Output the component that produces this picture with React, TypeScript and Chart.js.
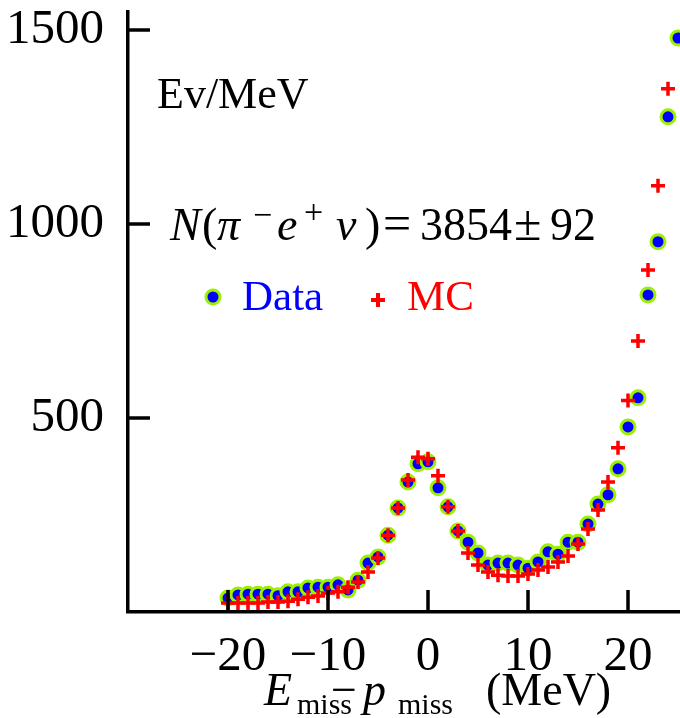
import React, { useEffect, useRef } from 'react';
import { Chart, registerables } from 'chart.js';

Chart.register(...registerables);

// Bin centres (MeV)
const dataBins = [
  -20, -19, -18, -17, -16, -15, -14, -13, -12, -11, -10, -9, -8, -7, -6, -5, -4, -3, -2, -1,
  0, 1, 2, 3, 4, 5, 6, 7, 8, 9, 10, 11, 12, 13, 14, 15, 16, 17, 18, 19, 20, 21, 22, 23, 24, 25,
];
const dataCounts = [
  36, 44, 46, 46, 46, 42, 52, 52, 62, 64, 64, 70, 57, 82, 126, 142, 198, 268, 335, 382,
  387, 320, 271, 209, 180, 152, 121, 126, 126, 121, 113, 129, 155, 149, 180, 180, 227, 278, 302, 369,
  477, 552, 817, 954, 1276, 1479,
];
const mcBins = [
  -20, -19, -18, -17, -16, -15, -14, -13, -12, -11, -10, -9, -8, -7, -6, -5, -4, -3, -2, -1,
  0, 1, 2, 3, 4, 5, 6, 7, 8, 9, 10, 11, 12, 13, 14, 15, 16, 17, 18, 19, 20, 21, 22, 23, 24,
];
const mcCounts = [
  23, 23, 23, 23, 26, 26, 28, 33, 38, 41, 49, 52, 64, 77, 103, 139, 198, 268, 340, 399,
  395, 351, 271, 209, 152, 121, 103, 95, 93, 93, 98, 108, 116, 129, 144, 175, 214, 263, 335, 423,
  545, 698, 881, 1098, 1348,
];
const xTickValues = [-20, -10, 0, 10, 20];
const yTickValues = [500, 1000, 1500];

const SERIF = "'Liberation Serif', 'DejaVu Serif', serif";
const GREEN = '#9cf000';

const inwardTicks = {
  id: 'inwardTicks',
  afterDatasetsDraw(chart: any) {
    const { ctx, chartArea, scales } = chart;
    const x = scales.x;
    const y = scales.y;
    ctx.save();
    ctx.strokeStyle = '#000';
    ctx.lineWidth = 3.5;
    ctx.lineCap = 'butt';
    for (const v of xTickValues) {
      const px = Math.round(x.getPixelForValue(v));
      ctx.beginPath();
      ctx.moveTo(px, chartArea.bottom);
      ctx.lineTo(px, chartArea.bottom - 22);
      ctx.stroke();
    }
    for (const v of yTickValues) {
      const py = Math.round(y.getPixelForValue(v));
      ctx.beginPath();
      ctx.moveTo(chartArea.left, py);
      ctx.lineTo(chartArea.left + 22, py);
      ctx.stroke();
    }
    ctx.restore();
  },
};

function txt(ctx: any, s: string, x: number, y: number, size: number, italic = false, color = '#000') {
  ctx.font = `${italic ? 'italic ' : ''}${size}px ${SERIF}`;
  ctx.fillStyle = color;
  ctx.textAlign = 'left';
  ctx.textBaseline = 'alphabetic';
  ctx.fillText(s, x, y);
}

const annotations = {
  id: 'annotations',
  afterDraw(chart: any) {
    const ctx = chart.ctx;
    ctx.save();
    // y unit label
    txt(ctx, 'Ev/MeV', 157, 108, 44);

    // N(π−e+ν)=3854±92
    txt(ctx, 'N', 170, 240, 46, true);
    txt(ctx, '(', 202, 240, 46);
    txt(ctx, 'π', 217, 240, 46, true);
    txt(ctx, '\u2212', 253, 226, 34);
    txt(ctx, 'e', 277, 240, 46, true);
    txt(ctx, '+', 304, 223, 34);
    txt(ctx, 'ν', 336, 240, 46, true);
    txt(ctx, ')', 365, 240, 46);
    txt(ctx, '=', 383, 240, 50);
    txt(ctx, '3854', 420, 240, 46);
    txt(ctx, '\u00b1', 514, 240, 50);
    txt(ctx, '92', 550, 240, 46);

    // legend
    ctx.beginPath();
    ctx.arc(213, 297, 7, 0, Math.PI * 2);
    ctx.fillStyle = '#0000ff';
    ctx.fill();
    ctx.lineWidth = 3;
    ctx.strokeStyle = GREEN;
    ctx.stroke();
    txt(ctx, 'Data', 242, 310, 43, false, '#0000ff');

    ctx.strokeStyle = '#ff0000';
    ctx.lineWidth = 4;
    ctx.beginPath();
    ctx.moveTo(371, 300);
    ctx.lineTo(385, 300);
    ctx.moveTo(378, 293);
    ctx.lineTo(378, 307);
    ctx.stroke();
    txt(ctx, 'MC', 407, 310, 43, false, '#ff0000');

    // x-axis title: E_miss − p_miss (MeV)
    txt(ctx, 'E', 264, 705, 46, true);
    txt(ctx, 'miss', 297, 714, 30);
    txt(ctx, '\u2212', 331, 705, 46);
    txt(ctx, 'p', 363, 705, 46, true);
    txt(ctx, 'miss', 398, 714, 30);
    txt(ctx, '(MeV)', 486, 705, 46);
    ctx.restore();
  },
};

function zeroPad(axis: any) {
  axis.paddingTop = 0;
  axis.paddingBottom = 0;
  axis.paddingLeft = 0;
  axis.paddingRight = 0;
}

export default function App() {
  const canvasRef = useRef<HTMLCanvasElement | null>(null);

  useEffect(() => {
    const canvas = canvasRef.current;
    if (!canvas) return;
    const dataPoints = dataBins.map((b, i) => ({ x: b, y: dataCounts[i] }));
    const mcPoints = mcBins.map((b, i) => ({ x: b, y: mcCounts[i] }));

    const chart = new Chart(canvas, {
      type: 'scatter',
      data: {
        datasets: [
          {
            label: 'MC',
            data: mcPoints,
            pointStyle: 'cross',
            pointRadius: 7,
            borderColor: '#ff0000',
            backgroundColor: '#ff0000',
            borderWidth: 3.5,
            order: 0,
          },
          {
            label: 'Data',
            data: dataPoints,
            pointStyle: 'circle',
            pointRadius: 7,
            backgroundColor: '#0000ff',
            borderColor: GREEN,
            borderWidth: 3,
            order: 1,
          },
        ],
      },
      options: {
        animation: false,
        responsive: false,
        devicePixelRatio: 1,
        layout: { autoPadding: false, padding: { top: 12, left: 0, right: 0, bottom: 0 } },
        plugins: {
          legend: { display: false },
          tooltip: { enabled: false },
          title: { display: false },
        },
        scales: {
          x: {
            type: 'linear',
            min: -30,
            max: 25.2,
            grid: { display: false },
            border: { display: true, color: '#000', width: 3.5 },
            afterBuildTicks: (axis: any) => {
              axis.ticks = xTickValues.map((v) => ({ value: v }));
            },
            afterFit: (axis: any) => {
              axis.height = 106;
              zeroPad(axis);
            },
            ticks: {
              autoSkip: false,
              maxRotation: 0,
              padding: 8,
              color: '#000',
              font: { family: SERIF, size: 49 },
              callback: (v: any) => (Number(v) < 0 ? '\u2212' + Math.abs(Number(v)) : String(v)),
            },
          },
          y: {
            type: 'linear',
            min: 0,
            max: 1546,
            grid: { display: false },
            border: { display: true, color: '#000', width: 3.5 },
            afterBuildTicks: (axis: any) => {
              axis.ticks = yTickValues.map((v) => ({ value: v }));
            },
            afterFit: (axis: any) => {
              axis.width = 128;
              zeroPad(axis);
            },
            ticks: {
              autoSkip: false,
              padding: 16,
              color: '#000',
              font: { family: SERIF, size: 49 },
              callback: (v: any) => String(v),
            },
          },
        },
      },
      plugins: [inwardTicks, annotations],
    });
    return () => chart.destroy();
  }, []);

  return (
    <div style={{ position: 'absolute', left: 0, top: 0, width: 680, height: 718, background: '#fff' }}>
      <canvas ref={canvasRef} width={680} height={718} style={{ display: 'block' }} />
    </div>
  );
}
